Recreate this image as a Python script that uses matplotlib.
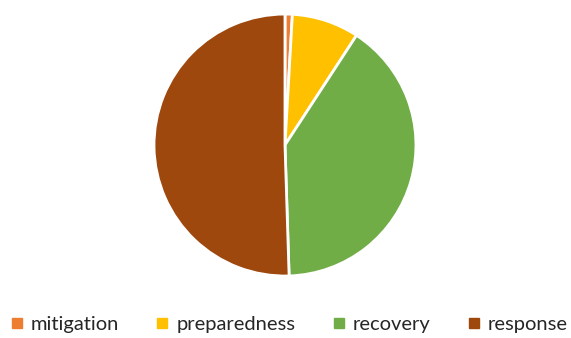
import matplotlib.pyplot as plt
from matplotlib.lines import Line2D

phases = ['mitigation', 'preparedness', 'recovery', 'response']
shares = [0.9, 8.3, 40.3, 50.5]
colors = ['#ED7D31', '#FFC000', '#70AD47', '#9E480E']

plt.rcParams['font.family'] = ['Lato', 'DejaVu Sans']

fig = plt.figure(figsize=(5.71, 3.38), dpi=100)
ax = fig.add_axes([0.2697, 0.1834, 0.4588, 0.775])

ax.pie(shares, colors=colors, startangle=90, counterclock=False,
       wedgeprops=dict(edgecolor='white', linewidth=2))
ax.set_xlim(-1.0, 1.0)
ax.set_ylim(-1.0, 1.0)
ax.set_aspect('equal')

handles = [Line2D([], [], marker='s', linestyle='none', markersize=7,
                  markerfacecolor=c, markeredgecolor=c) for c in colors]
fig.legend(handles, phases, loc='center', bbox_to_anchor=(0.505, 0.04),
           ncol=4, frameon=False, fontsize=14.5, handletextpad=0.3,
           columnspacing=1.75, handlelength=0.8, labelcolor='#262626')

fig.savefig('out.png', dpi=100)
